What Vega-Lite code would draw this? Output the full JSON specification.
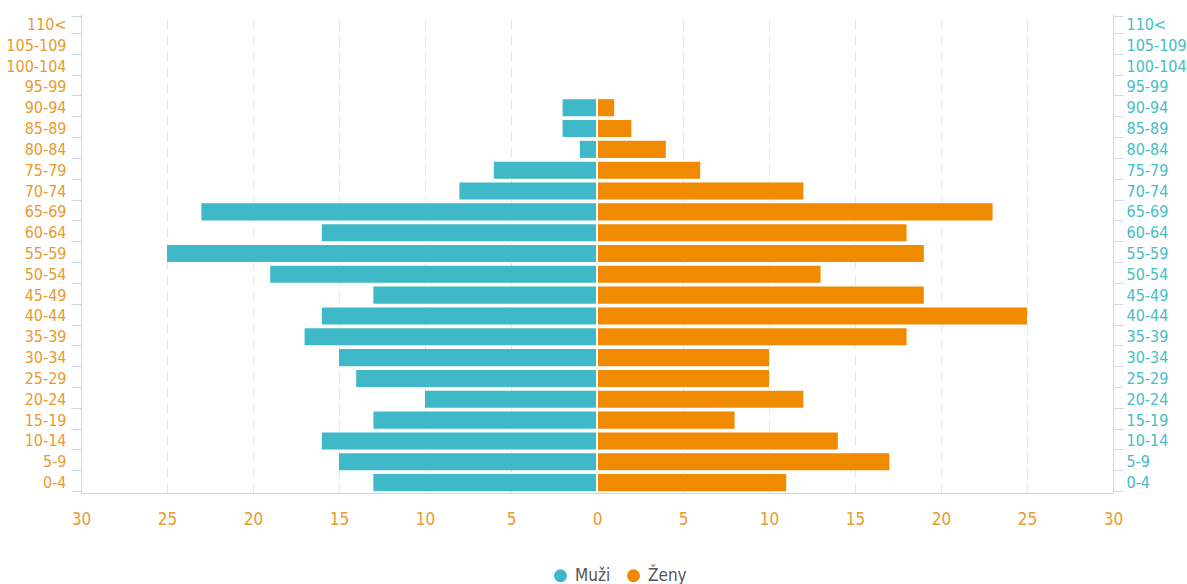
{
  "$schema": "https://vega.github.io/schema/vega-lite/v6.json",
  "width": 1032,
  "height": 479,
  "autosize": {"type": "none"},
  "padding": {"left": 81, "top": 14, "right": 74, "bottom": 91},
  "background": "white",
  "config": {
    "view": {"stroke": null},
    "font": "DejaVu Sans Condensed"
  },
  "data": {
    "values": [
      {"age": "110<", "sex": "Muži", "value": 0},
      {"age": "105-109", "sex": "Muži", "value": 0},
      {"age": "100-104", "sex": "Muži", "value": 0},
      {"age": "95-99", "sex": "Muži", "value": 0},
      {"age": "90-94", "sex": "Muži", "value": -2},
      {"age": "85-89", "sex": "Muži", "value": -2},
      {"age": "80-84", "sex": "Muži", "value": -1},
      {"age": "75-79", "sex": "Muži", "value": -6},
      {"age": "70-74", "sex": "Muži", "value": -8},
      {"age": "65-69", "sex": "Muži", "value": -23},
      {"age": "60-64", "sex": "Muži", "value": -16},
      {"age": "55-59", "sex": "Muži", "value": -25},
      {"age": "50-54", "sex": "Muži", "value": -19},
      {"age": "45-49", "sex": "Muži", "value": -13},
      {"age": "40-44", "sex": "Muži", "value": -16},
      {"age": "35-39", "sex": "Muži", "value": -17},
      {"age": "30-34", "sex": "Muži", "value": -15},
      {"age": "25-29", "sex": "Muži", "value": -14},
      {"age": "20-24", "sex": "Muži", "value": -10},
      {"age": "15-19", "sex": "Muži", "value": -13},
      {"age": "10-14", "sex": "Muži", "value": -16},
      {"age": "5-9", "sex": "Muži", "value": -15},
      {"age": "0-4", "sex": "Muži", "value": -13},
      {"age": "110<", "sex": "Ženy", "value": 0},
      {"age": "105-109", "sex": "Ženy", "value": 0},
      {"age": "100-104", "sex": "Ženy", "value": 0},
      {"age": "95-99", "sex": "Ženy", "value": 0},
      {"age": "90-94", "sex": "Ženy", "value": 1},
      {"age": "85-89", "sex": "Ženy", "value": 2},
      {"age": "80-84", "sex": "Ženy", "value": 4},
      {"age": "75-79", "sex": "Ženy", "value": 6},
      {"age": "70-74", "sex": "Ženy", "value": 12},
      {"age": "65-69", "sex": "Ženy", "value": 23},
      {"age": "60-64", "sex": "Ženy", "value": 18},
      {"age": "55-59", "sex": "Ženy", "value": 19},
      {"age": "50-54", "sex": "Ženy", "value": 13},
      {"age": "45-49", "sex": "Ženy", "value": 19},
      {"age": "40-44", "sex": "Ženy", "value": 25},
      {"age": "35-39", "sex": "Ženy", "value": 18},
      {"age": "30-34", "sex": "Ženy", "value": 10},
      {"age": "25-29", "sex": "Ženy", "value": 10},
      {"age": "20-24", "sex": "Ženy", "value": 12},
      {"age": "15-19", "sex": "Ženy", "value": 8},
      {"age": "10-14", "sex": "Ženy", "value": 14},
      {"age": "5-9", "sex": "Ženy", "value": 17},
      {"age": "0-4", "sex": "Ženy", "value": 11}
    ]
  },
  "layer": [
    {
      "mark": {"type": "bar"},
      "encoding": {
        "x": {
          "field": "value",
          "type": "quantitative",
          "scale": {"domain": [-30, 30], "nice": false},
          "axis": {
            "title": null,
            "values": [-30, -25, -20, -15, -10, -5, 0, 5, 10, 15, 20, 25, 30],
            "labelExpr": "abs(datum.value)",
            "labelFlush": false,
            "labelColor": "#E89A2E",
            "labelFontSize": 17,
            "labelPadding": 18,
            "ticks": false,
            "domainColor": "#ccd6eb",
            "domainWidth": 1,
            "grid": true,
            "gridColor": "#e6e6ec",
            "gridDash": [10, 6],
            "gridWidth": 1
          }
        },
        "y": {
          "field": "age",
          "type": "ordinal",
          "sort": ["110<", "105-109", "100-104", "95-99", "90-94", "85-89", "80-84", "75-79", "70-74", "65-69", "60-64", "55-59", "50-54", "45-49", "40-44", "35-39", "30-34", "25-29", "20-24", "15-19", "10-14", "5-9", "0-4"],
          "scale": {"paddingInner": 0.18, "paddingOuter": 0.09},
          "axis": {
            "title": null,
            "orient": "left",
            "labelColor": "#E89A2E",
            "labelFontSize": 16,
            "labelPadding": 5,
            "tickBand": "extent",
            "tickSize": 10,
            "tickColor": "#ccd6eb",
            "domainColor": "#ccd6eb",
            "grid": false
          }
        },
        "color": {
          "field": "sex",
          "type": "nominal",
          "scale": {"domain": ["Muži", "Ženy"], "range": ["#3FB8C7", "#F08A00"]},
          "legend": {
            "title": null,
            "orient": "none",
            "direction": "horizontal",
            "legendX": 471,
            "legendY": 553,
            "symbolType": "circle",
            "symbolSize": 170,
            "symbolStrokeWidth": 0,
            "labelFontSize": 17,
            "labelColor": "#555555",
            "columnPadding": 14,
            "labelOffset": 6,
            "padding": 0
          }
        }
      }
    },
    {
      "mark": {"type": "bar", "opacity": 0},
      "encoding": {
        "x": {"field": "value", "type": "quantitative"},
        "y": {
          "field": "age",
          "type": "ordinal",
          "sort": ["110<", "105-109", "100-104", "95-99", "90-94", "85-89", "80-84", "75-79", "70-74", "65-69", "60-64", "55-59", "50-54", "45-49", "40-44", "35-39", "30-34", "25-29", "20-24", "15-19", "10-14", "5-9", "0-4"],
          "axis": {
            "title": null,
            "orient": "right",
            "labelColor": "#45BDC4",
            "labelFontSize": 16,
            "labelPadding": 3,
            "tickBand": "extent",
            "tickSize": 10,
            "tickColor": "#ccd6eb",
            "domainColor": "#ccd6eb",
            "grid": false
          }
        }
      }
    },
    {
      "mark": {"type": "rule", "color": "white", "strokeWidth": 1},
      "encoding": {"x": {"datum": 0}}
    }
  ],
  "resolve": {"axis": {"y": "independent"}}
}
